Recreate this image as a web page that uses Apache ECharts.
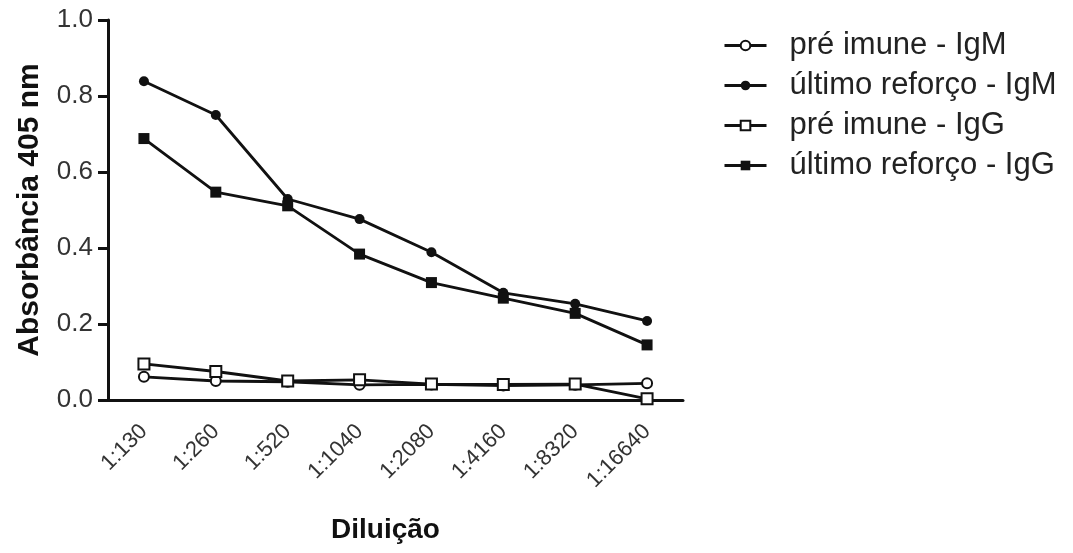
<!DOCTYPE html>
<html>
<head>
<meta charset="utf-8">
<script src="https://cdn.jsdelivr.net/npm/echarts@6/dist/echarts.min.js"></script>
<style>
html,body{margin:0;padding:0;background:#fff;}
#chart{width:1073px;height:553px;}
</style>
</head>
<body>
<div id="chart"></div>
<script>
var categories = ['1:130','1:260','1:520','1:1040','1:2080','1:4160','1:8320','1:16640'];
var seriesNames = ['pré imune - IgM','último reforço - IgM','pré imune - IgG','último reforço - IgG'];
var preImuneIgM = [0.061, 0.050, 0.048, 0.040, 0.041, 0.038, 0.040, 0.044];
var ultimoReforcoIgM = [0.839, 0.750, 0.529, 0.476, 0.389, 0.282, 0.253, 0.208];
var preImuneIgG = [0.095, 0.075, 0.050, 0.053, 0.042, 0.041, 0.042, 0.003];
var ultimoReforcoIgG = [0.688, 0.547, 0.511, 0.384, 0.309, 0.268, 0.228, 0.145];
var yTicks = [0, 0.2, 0.4, 0.6, 0.8, 1.0];

var FONT = '"Liberation Sans", Arial, Helvetica, sans-serif';
var INK = '#111';

function mk(name, data, symbol, filled) {
  return {
    name: name,
    type: 'line',
    data: data,
    symbol: symbol,
    symbolSize: symbol === 'rect' ? 11 : 10,
    showAllSymbol: true,
    lineStyle: {color: INK, width: 2.8},
    itemStyle: {color: filled ? INK : '#fff', borderColor: INK, borderWidth: filled ? 0 : 2},
    animation: false,
    z: filled ? 3 : 4
  };
}

var chart = echarts.init(document.getElementById('chart'), null, {renderer: 'canvas'});
chart.setOption({
  backgroundColor: '#fff',
  animation: false,
  grid: {left: 108, right: 390, top: 20, bottom: 153, containLabel: false},
  legend: {
    orient: 'vertical',
    left: 718,
    top: 25,
    itemWidth: 42,
    itemHeight: 12,
    itemGap: 9,
    data: seriesNames,
    lineStyle: {width: 3, color: INK},
    textStyle: {fontFamily: FONT, fontSize: 31, color: '#222', padding: [0, 0, 0, 18]}
  },
  xAxis: {
    type: 'category',
    data: categories,
    boundaryGap: true,
    name: 'Diluição',
    nameLocation: 'middle',
    nameGap: 116,
    nameTextStyle: {fontFamily: FONT, fontSize: 28, fontWeight: 'bold', color: INK, padding: [0, 20, 0, 0]},
    axisLine: {lineStyle: {color: INK, width: 3}},
    axisTick: {alignWithLabel: true, length: 10, lineStyle: {color: INK, width: 3}},
    axisLabel: {rotate: 45, margin: 28, fontFamily: FONT, fontSize: 22, color: '#333', interval: 0},
    splitLine: {show: false}
  },
  yAxis: {
    type: 'value',
    min: 0,
    max: 1,
    interval: 0.2,
    name: 'Absorbância 405 nm',
    nameLocation: 'middle',
    nameGap: 63,
    nameTextStyle: {fontFamily: FONT, fontSize: 30, fontWeight: 'bold', color: INK},
    axisLine: {show: true, lineStyle: {color: INK, width: 3}},
    axisTick: {show: true, length: 10, lineStyle: {color: INK, width: 3}},
    axisLabel: {
      margin: 15,
      fontFamily: FONT, fontSize: 26, color: '#333',
      formatter: function (v) { return yTicks.indexOf(Math.round(v * 10) / 10) >= 0 ? v.toFixed(1) : ''; }
    },
    splitLine: {show: false}
  },
  series: [
    mk(seriesNames[0], preImuneIgM, 'circle', false),
    mk(seriesNames[1], ultimoReforcoIgM, 'circle', true),
    mk(seriesNames[2], preImuneIgG, 'rect', false),
    mk(seriesNames[3], ultimoReforcoIgG, 'rect', true)
  ]
});
</script>
</body>
</html>
